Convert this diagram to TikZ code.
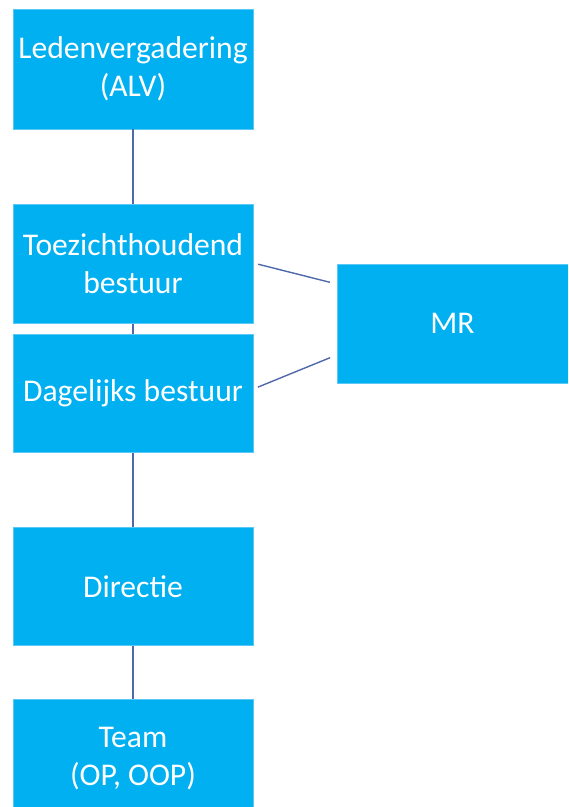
\documentclass[tikz,border=0pt]{standalone}
\usepackage{fontspec}
\setmainfont{Carlito}
\usetikzlibrary{positioning}
\definecolor{boxcyan}{RGB}{0,176,240}
\definecolor{edgecyan}{RGB}{90,200,245}
\definecolor{linkblue}{RGB}{80,105,170}

\begin{document}
\begin{tikzpicture}[
    x=0.02cm, y=-0.02cm,
    orgbox/.style={rectangle, draw=edgecyan, line width=0.4pt,
                   fill=boxcyan, minimum width=4.8cm, minimum height=2.37cm,
                   align=center, text=white, inner sep=2pt,
                   font=\fontsize{18}{21.6}\selectfont},
    link/.style={draw=linkblue, line width=0.8pt},
]

% page frame (image is 568 x 807 px)
\clip (0,0) rectangle (568,807);
\fill[white] (0,0) rectangle (568,807);

%---------------------------------------------------------------
% LEFT column: the chain from ALV down to the team
%---------------------------------------------------------------
\node[orgbox, minimum height=2.4cm] (alv) at (133, 69)
     {Ledenvergadering\\(ALV)};
\node[orgbox] (toezicht) at (133, 264) {Toezichthoudend\\bestuur};
\node[orgbox] (dagelijks) at (133, 393.5) {Dagelijks bestuur};
\node[orgbox] (directie) at (133, 586.5) {Directie};
\node[orgbox] (team) at (133, 759) {Team\\(OP, OOP)};

%---------------------------------------------------------------
% RIGHT: the MR next to both boards
%---------------------------------------------------------------
\node[orgbox, minimum width=4.62cm, minimum height=2.38cm] (mr)
     at (452.5, 323.5) {MR};

% vertical links
\draw[link] (alv.south) -- (toezicht.north);
\draw[link] (toezicht.south) -- (dagelijks.north);
\draw[link] (dagelijks.south) -- (directie.north);
\draw[link] (directie.south) -- (team.north);

% slanted links to the MR
\draw[link, shorten <=0.1cm, shorten >=0.14cm]
     ([yshift=0.02cm]toezicht.east) -- ([yshift=0.79cm]mr.west);
\draw[link, shorten <=0.1cm, shorten >=0.14cm]
     ([yshift=0.09cm]dagelijks.east) -- ([yshift=-0.63cm]mr.west);

\end{tikzpicture}
\end{document}
